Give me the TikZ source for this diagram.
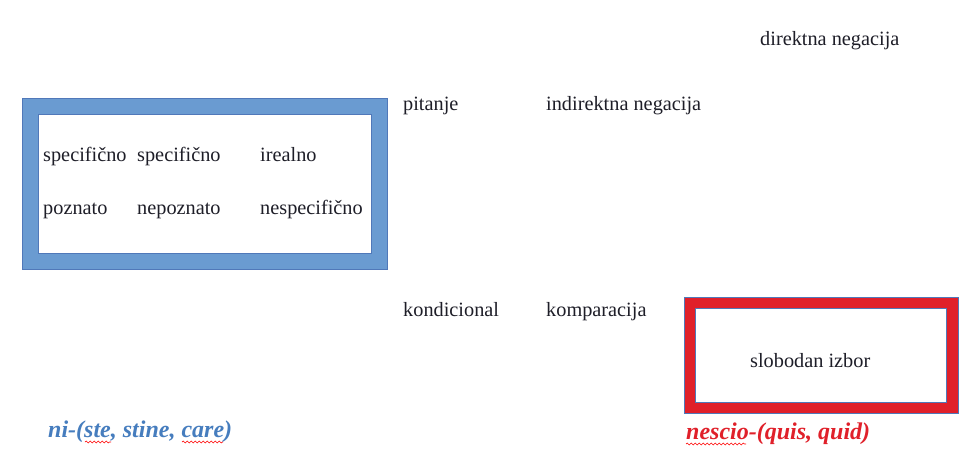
\documentclass[tikz,border=0pt]{standalone}
\usepackage{fontspec}
\setmainfont{Liberation Serif}
\usetikzlibrary{decorations.pathmorphing}
\definecolor{boxblue}{RGB}{106,155,209}
\definecolor{edgeblue}{RGB}{80,120,185}
\definecolor{boxred}{RGB}{224,32,42}
\definecolor{txtblue}{RGB}{70,125,190}
\definecolor{txtgray}{RGB}{30,30,40}
\tikzset{
  lbl/.style={anchor=base west, inner sep=0pt, font=\fontsize{20.3}{24}\selectfont, text=txtgray},
  tag/.style={anchor=base west, inner sep=0pt, font=\fontsize{24}{28}\selectfont\bfseries\itshape},
  wavy/.style={draw=red, line width=0.6pt, decorate, decoration={snake, amplitude=0.9pt, segment length=4pt}}
}
\begin{document}
\begin{tikzpicture}[x=1pt,y=-1pt]
\useasboundingbox[fill=white] (0,0) rectangle (964,453);
% blue frame
\path[fill=boxblue, draw=edgeblue, line width=0.5pt, even odd rule]
  (22,98) rectangle (387,269) (38,114) rectangle (371,253);
% red frame
\path[fill=boxred, even odd rule]
  (684,297) rectangle (958,413) (695,308) rectangle (946,402);
\draw[edgeblue, line width=0.6pt] (684,297) rectangle (958,413);
\draw[edgeblue, line width=0.6pt] (695,308) rectangle (946,402);
% labels in blue box
\node[lbl] (sp1) at (43,161) {specifično};
\node[lbl] (poz) at (43,214) {poznato};
\node[lbl] (sp2) at (137,161) {specifično};
\node[lbl] (nep) at (137,214) {nepoznato};
\node[lbl] (ire) at (260,161) {irealno};
\node[lbl] (nsp) at (260,214) {nespecifično};
% other labels
\node[lbl] (dir) at (760,45) {direktna negacija};
\node[lbl] (pit) at (403,110) {pitanje};
\node[lbl] (ind) at (546,110) {indirektna negacija};
\node[lbl] (kon) at (403,316) {kondicional};
\node[lbl] (kom) at (546,316) {komparacija};
\node[lbl] (slo) at (750,367) {slobodan izbor};
% bottom tags
\node[tag, text=txtblue] (ni) at (48,437) {ni-(ste, stine, care)};
\node[tag, text=boxred] (nes) at (686,439) {nescio-(quis, quid)};
% spell-check squiggles
\draw[wavy] (85,442) -- (111,442);
\draw[wavy] (182,442) -- (223,442);
\draw[wavy] (686,444) -- (746,444);
\end{tikzpicture}
\end{document}
